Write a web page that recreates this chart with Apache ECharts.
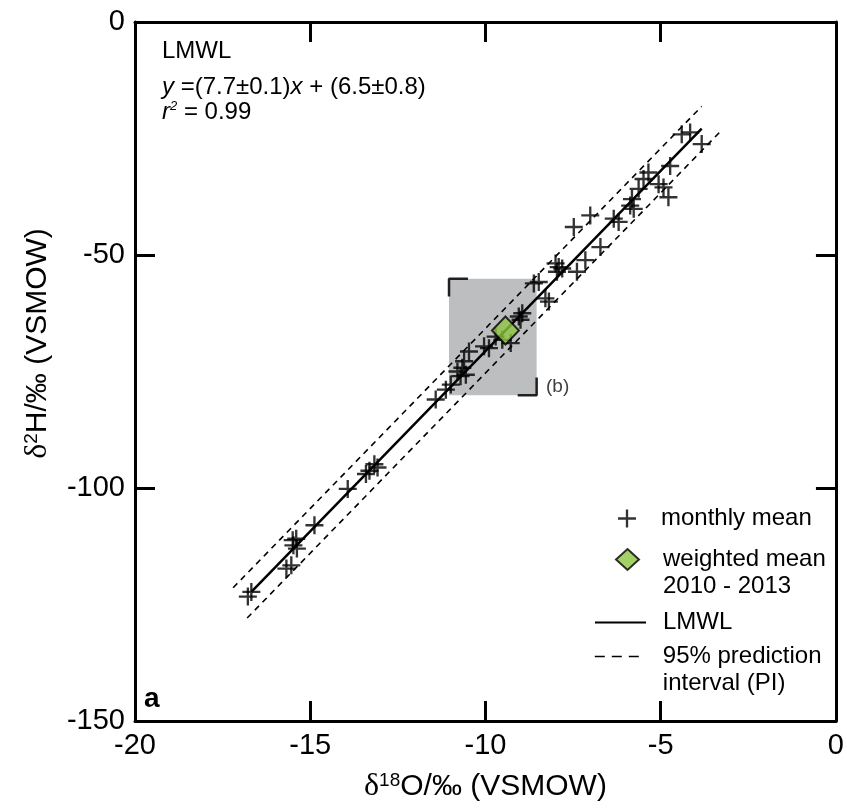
<!DOCTYPE html>
<html>
<head>
<meta charset="utf-8">
<script src="https://cdn.jsdelivr.net/npm/echarts@6/dist/echarts.min.js"></script>
<style>
html, body { margin: 0; padding: 0; background: #fff; }
#chart { width: 847px; height: 808px; }
</style>
</head>
<body>
<div id="chart"></div>
<script>
// monthly means, [d18O, d2H] in permil VSMOW
const monthlyMean = [
    [-16.68, -122.3], [-16.78, -123.3],
    [-15.50, -111.2], [-15.40, -110.9], [-15.48, -112.3], [-15.38, -113.0],
    [-15.68, -117.3], [-15.54, -116.6],
    [-14.88, -108.0], [-13.93, -100.2],
    [-13.17, -94.9], [-13.08, -95.6], [-13.31, -96.3], [-13.41, -97.0],
    [-11.42, -81.0], [-11.13, -78.9], [-10.99, -77.8], [-10.80, -75.0],
    [-10.66, -74.2], [-10.71, -76.0], [-10.56, -75.7], [-10.47, -70.7],
    [-10.61, -72.8], [-10.04, -69.6], [-9.90, -70.0], [-9.52, -68.2],
    [-9.28, -68.9], [-9.71, -67.5], [-9.05, -63.2], [-8.95, -62.5],
    [-9.00, -63.9], [-8.62, -56.1], [-8.48, -55.8], [-8.29, -59.3],
    [-8.19, -60.0], [-8.00, -51.8], [-7.91, -52.6], [-7.96, -53.6],
    [-7.81, -52.9], [-7.39, -53.6], [-7.15, -51.1], [-6.72, -48.3],
    [-7.48, -44.0], [-7.01, -41.5], [-6.34, -42.2], [-6.20, -42.9],
    [-5.87, -39.4], [-5.77, -40.1], [-5.82, -38.0], [-5.63, -35.8],
    [-5.49, -33.7], [-5.35, -32.3], [-5.06, -34.8], [-4.92, -35.5],
    [-4.78, -37.6], [-4.73, -30.9], [-4.40, -24.1], [-4.16, -23.7],
    [-3.83, -26.2]
];
const weightedMean = [[-9.43, -66.2]];

// line end points
const lmwl = [[-16.68, -122.3], [-3.83, -22.9]];
const piUpper = [[-17.2, -121.4], [-3.83, -18.1]];
const piLower = [[-16.8, -127.9], [-3.31, -23.6]];

// zoom box for panel (b)
const boxX = [-11.04, -8.54];
const boxY = [-80.1, -55.1];
const bracketTL = [[-10.5, -55.1], [-11.04, -55.1], [-11.04, -58.9]];
const bracketBR = [[-9.08, -80.1], [-8.54, -80.1], [-8.54, -76.3]];

const xTicks = { min: -20, max: 0, interval: 5 };
const yTicks = { min: -150, max: 0, interval: 50 };

const font = 'Liberation Sans, Arial, Helvetica, sans-serif';
const crossPath = 'path://M0,4.35h10v1.3h-10z M4.35,0h1.3v10h-1.3z';

const chart = echarts.init(document.getElementById('chart'));

function axisBase(extra) {
    return Object.assign({
        type: 'value',
        axisLine: { onZero: false, lineStyle: { color: '#000', width: 3 } },
        axisTick: { inside: true, length: 20, lineStyle: { color: '#000', width: 3 } },
        splitLine: { show: false },
        axisLabel: { show: false }
    }, extra);
}

const label = { show: true, color: '#000', fontSize: 29, fontFamily: font };
const rich = {
    d: { fontFamily: 'Liberation Serif, DejaVu Serif, serif', fontSize: 32, color: '#000' },
    sup: { fontSize: 19, fontFamily: font, color: '#000', verticalAlign: 'top', lineHeight: 16 }
};
const nameStyle = { fontSize: 30, fontFamily: font, color: '#000', rich: rich };
const legendText = { fontSize: 24, fontFamily: font, color: '#000', lineHeight: 27 };
const noteStyle = { fontSize: 24, fontFamily: font, fill: '#000', verticalAlign: 'middle' };

chart.setOption({
    animation: false,
    backgroundColor: '#fff',
    grid: { left: 135, right: 9, top: 22, bottom: 83 },
    xAxis: [
        axisBase(Object.assign({
            position: 'bottom',
            axisLabel: Object.assign({ margin: 10 }, label),
            name: '{d|δ}{sup|18}O/‰ (VSMOW)',
            nameLocation: 'middle',
            nameGap: 50,
            nameTextStyle: nameStyle
        }, xTicks)),
        axisBase(Object.assign({ position: 'top' }, xTicks))
    ],
    yAxis: [
        axisBase(Object.assign({
            position: 'left',
            axisLabel: Object.assign({ margin: 10 }, label),
            name: '{d|δ}{sup|2}H/‰ (VSMOW)',
            nameLocation: 'middle',
            nameGap: 81,
            nameTextStyle: Object.assign({ padding: [0, 0, 0, 56] }, nameStyle)
        }, yTicks)),
        axisBase(Object.assign({ position: 'right' }, yTicks))
    ],
    legend: [
        {
            left: 618, top: 505, padding: 0, itemWidth: 18, itemHeight: 18, selectedMode: false,
            data: [{ name: 'monthly mean', icon: crossPath }],
            textStyle: Object.assign({ padding: [0, 0, 0, 20] }, legendText)
        },
        {
            left: 615, top: 519, padding: 0, itemWidth: 23, itemHeight: 21, selectedMode: false,
            data: [{ name: 'weighted mean\n2010 - 2013', icon: 'diamond' }],
            formatter: name => ' \n' + name,
            textStyle: Object.assign({ padding: [0, 0, 0, 19] }, legendText)
        },
        {
            left: 594, top: 609, padding: 0, itemWidth: 51, itemHeight: 14, selectedMode: false,
            data: ['LMWL'],
            itemStyle: { opacity: 0 },
            textStyle: Object.assign({ padding: [0, 0, 0, 12] }, legendText)
        },
        {
            left: 594, top: 616, padding: 0, itemWidth: 51, itemHeight: 14, selectedMode: false,
            data: ['95% prediction\ninterval (PI)'],
            formatter: name => ' \n' + name,
            itemStyle: { opacity: 0 },
            lineStyle: { type: [10, 7], width: 1.6 },
            textStyle: Object.assign({ padding: [0, 0, 0, 12] }, legendText)
        }
    ],
    graphic: [
        { type: 'text', x: 162, y: 51, style: Object.assign({ text: 'LMWL' }, noteStyle) },
        {
            type: 'text', x: 162, y: 87,
            style: Object.assign({
                text: '{i|y} =(7.7±0.1){i|x} + (6.5±0.8)',
                rich: { i: { fontStyle: 'italic', fontSize: 24, fontFamily: font } }
            }, noteStyle)
        },
        {
            type: 'text', x: 162, y: 112,
            style: Object.assign({
                text: '{i|r}{s|2} = 0.99', lineHeight: 24,
                rich: {
                    i: { fontStyle: 'italic', fontSize: 24, fontFamily: font, lineHeight: 24 },
                    s: { fontStyle: 'italic', fontSize: 13, fontFamily: font, verticalAlign: 'top', lineHeight: 12 }
                }
            }, noteStyle)
        },
        { type: 'text', left: 144, top: 685, style: { text: 'a', fontSize: 28, fontWeight: 'bold', fontFamily: font, fill: '#000' } },
        { type: 'text', left: 546, top: 377, style: { text: '(b)', fontSize: 19, fontFamily: font, fill: '#414042' } }
    ],
    series: [
        {
            type: 'line', name: 'box', data: [], z: 1, silent: true,
            markArea: {
                silent: true,
                itemStyle: { color: '#bcbec0' },
                data: [[{ coord: [boxX[0], boxY[1]] }, { coord: [boxX[1], boxY[0]] }]]
            }
        },
        {
            type: 'line', name: 'bracket1', data: bracketTL, symbol: 'none', z: 2, silent: true,
            lineStyle: { color: '#231f20', width: 2.5 }
        },
        {
            type: 'line', name: 'bracket2', data: bracketBR, symbol: 'none', z: 2, silent: true,
            lineStyle: { color: '#231f20', width: 2.5 }
        },
        {
            type: 'line', name: '95% prediction\ninterval (PI)', data: piUpper, symbol: 'none', z: 3,
            lineStyle: { color: '#000', width: 1.6, type: [6, 5] }, itemStyle: { color: '#000' }
        },
        {
            type: 'line', name: '95% prediction\ninterval (PI)', data: piLower, symbol: 'none', z: 3,
            lineStyle: { color: '#000', width: 1.6, type: [6, 5] }, itemStyle: { color: '#000' }
        },
        {
            type: 'line', name: 'LMWL', data: lmwl, symbol: 'none', z: 3,
            lineStyle: { color: '#000', width: 2.5 }, itemStyle: { color: '#000' }
        },
        {
            type: 'scatter', name: 'monthly mean', data: monthlyMean, z: 4,
            symbol: crossPath, symbolSize: 18,
            itemStyle: { color: '#000' }
        },
        {
            type: 'scatter', name: 'weighted mean\n2010 - 2013', data: weightedMean, z: 5,
            symbol: 'diamond', symbolSize: [27, 28],
            itemStyle: { color: '#8dc63f', borderColor: '#000', borderWidth: 2 }
        }
    ]
});
</script>
</body>
</html>
